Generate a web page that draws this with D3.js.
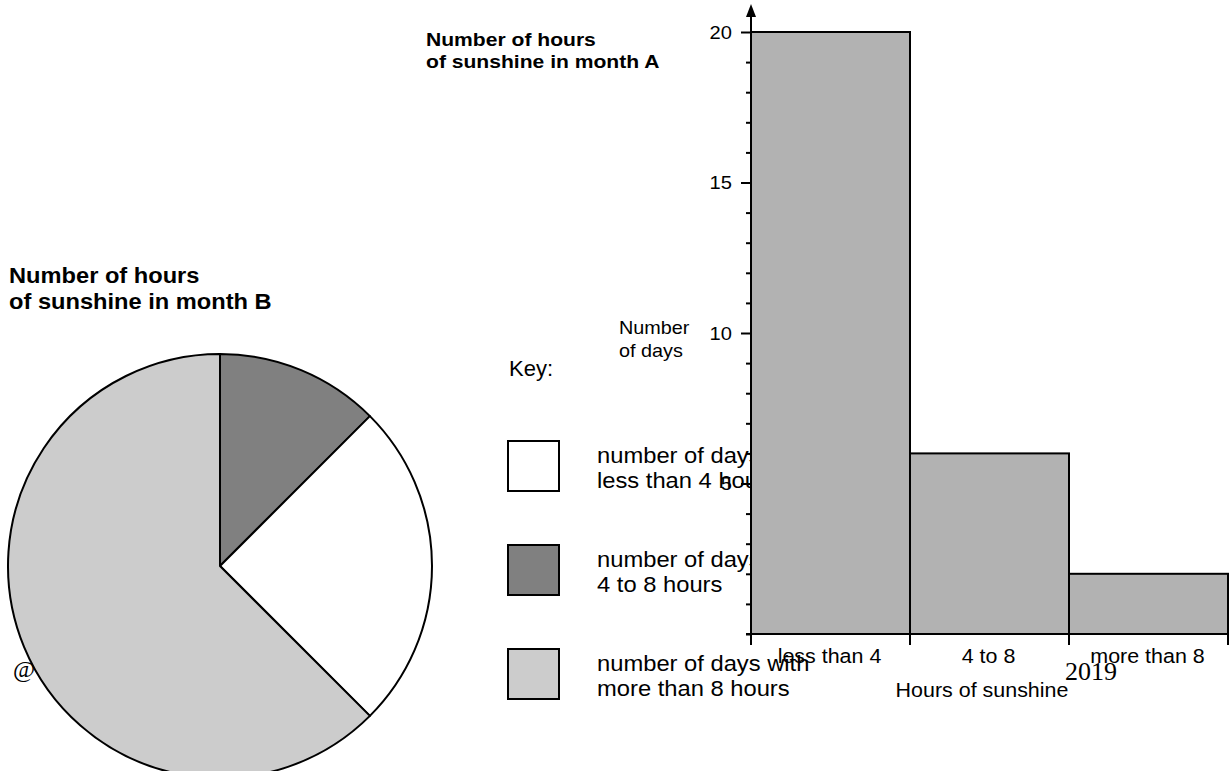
<!DOCTYPE html>
<html>
<head>
<meta charset="utf-8">
<script src="https://cdn.jsdelivr.net/npm/d3@7"></script>
<style>
  html, body { margin: 0; padding: 0; background: #fff; }
  svg { display: block; }
  text { font-family: "Liberation Sans", Arial, Helvetica, sans-serif; fill: #000; }
</style>
</head>
<body>
<svg id="chart" width="1230" height="771"></svg>
<script>
// ---- data ----
const categories = ["less than 4", "4 to 8", "more than 8"];
const monthADays = [20, 6, 2];          // bar chart, month A
const monthBDays = [8, 4, 20];          // pie chart, month B (same category order)
const pieOrder = ["4 to 8", "less than 4", "more than 8"]; // clockwise from 12 o'clock
const yTicks = d3.range(0, 21);
const yLabelTicks = [5, 10, 15, 20];
const legendLabels = [
  ["number of days with", "less than 4 hours"],
  ["number of days with", "4 to 8 hours"],
  ["number of days with", "more than 8 hours"]
];

const fills = {"less than 4": "#ffffff", "4 to 8": "#808080", "more than 8": "#cccccc"};

const svg = d3.select("#chart");

function stext(g, x, y, str, opts) {
  const o = Object.assign({size: 20, sx: 1.1, weight: "normal", anchor: "start", family: null}, opts || {});
  const t = g.append("text")
    .attr("transform", `translate(${x},${y}) scale(${o.sx},1)`)
    .attr("text-anchor", o.anchor)
    .style("font-size", o.size + "px")
    .style("font-weight", o.weight)
    .text(str);
  if (o.family) t.style("font-family", o.family);
  return t;
}

// ---- watermark remnants ----
stext(svg, 13, 677, "@", {size: 24, sx: 1, family: "'Liberation Serif', 'Times New Roman', serif"});

// ---- pie (month B) ----
const pieData = pieOrder.map(c => ({cat: c, value: monthBDays[categories.indexOf(c)]}));
const pie = d3.pie().sort(null).value(d => d.value);
const arc = d3.arc().innerRadius(0).outerRadius(212);
const pg = svg.append("g").attr("transform", "translate(220,566)");
pg.selectAll("path").data(pie(pieData)).join("path")
  .attr("d", arc)
  .attr("fill", d => fills[d.data.cat])
  .attr("stroke", "#000")
  .attr("stroke-width", 2)
  .attr("stroke-linejoin", "round");

stext(svg, 9, 283, "Number of hours", {size: 21.5, sx: 1.1, weight: "bold"});
stext(svg, 9, 309, "of sunshine in month B", {size: 21.5, sx: 1.1, weight: "bold"});

// ---- key ----
stext(svg, 509, 376, "Key:", {size: 22, sx: 1.0});
const lg = svg.append("g");
categories.forEach((c, i) => {
  const top = 441 + i * 104;
  lg.append("rect").attr("x", 508).attr("y", top).attr("width", 51).attr("height", 50)
    .attr("fill", fills[c]).attr("stroke", "#000").attr("stroke-width", 2);
  stext(lg, 597, top + 22, legendLabels[i][0], {size: 22, sx: 1.08});
  stext(lg, 597, top + 47, legendLabels[i][1], {size: 22, sx: 1.08});
});

// ---- bar chart (month A) ----
stext(svg, 426, 46, "Number of hours", {size: 19, sx: 1.11, weight: "bold"});
stext(svg, 426, 68, "of sunshine in month A", {size: 19, sx: 1.11, weight: "bold"});

const x = d3.scaleBand().domain(categories).range([751, 1228]).padding(0);
const y = d3.scaleLinear().domain([0, 20]).range([634, 32]);

const bars = svg.append("g");
bars.selectAll("rect").data(categories).join("rect")
  .attr("x", d => x(d))
  .attr("y", (d, i) => y(monthADays[i]))
  .attr("width", x.bandwidth())
  .attr("height", (d, i) => y(0) - y(monthADays[i]))
  .attr("fill", "#b2b2b2")
  .attr("stroke", "#000")
  .attr("stroke-width", 2);

// y axis
const yAxis = d3.axisLeft(y).tickValues(yTicks)
  .tickSize(5).tickPadding(14)
  .tickFormat(d => yLabelTicks.includes(d) ? String(d) : "");
const ya = svg.append("g").attr("transform", "translate(751,0)").call(yAxis);
ya.select(".domain").remove();
ya.selectAll(".tick line").attr("stroke", "#000").attr("stroke-width", 2)
  .attr("x2", d => yLabelTicks.includes(d) ? -10 : -5);
ya.selectAll(".tick text").each(function() {
  const t = d3.select(this);
  const xx = +t.attr("x");
  t.attr("x", 0).attr("transform", `translate(${xx},0) scale(1.06,1)`);
}).style("font-size", "19px").style("font-family", "'Liberation Sans', Arial, sans-serif").attr("fill", "#000");
// axis line with arrow
svg.append("line").attr("x1", 751).attr("x2", 751).attr("y1", y(0)).attr("y2", 14)
  .attr("stroke", "#000").attr("stroke-width", 2);
svg.append("path").attr("d", "M751,4 L746,17 L756,17 Z").attr("fill", "#000");

// x axis
svg.append("line").attr("x1", 746).attr("x2", 1228).attr("y1", y(0)).attr("y2", y(0))
  .attr("stroke", "#000").attr("stroke-width", 2);
const edges = categories.map(c => x(c)).concat([x(categories[categories.length - 1]) + x.bandwidth()]);
svg.append("g").selectAll("line").data(edges).join("line")
  .attr("x1", d => d).attr("x2", d => d).attr("y1", y(0)).attr("y2", y(0) + 11)
  .attr("stroke", "#000").attr("stroke-width", 2);
const xl = svg.append("g");
categories.forEach(c => {
  stext(xl, x(c) + x.bandwidth() / 2 - 1, 663, c, {size: 19.5, sx: 1.1, anchor: "middle"});
});
stext(svg, 982, 697, "Hours of sunshine", {size: 19.5, sx: 1.1, anchor: "middle"});
stext(svg, 619, 334, "Number", {size: 18, sx: 1.1});
stext(svg, 619, 357, "of days", {size: 18, sx: 1.1});

stext(svg, 1065, 680, "2019", {size: 26, sx: 1, family: "'Liberation Serif', 'Times New Roman', serif"});
</script>
</body>
</html>
